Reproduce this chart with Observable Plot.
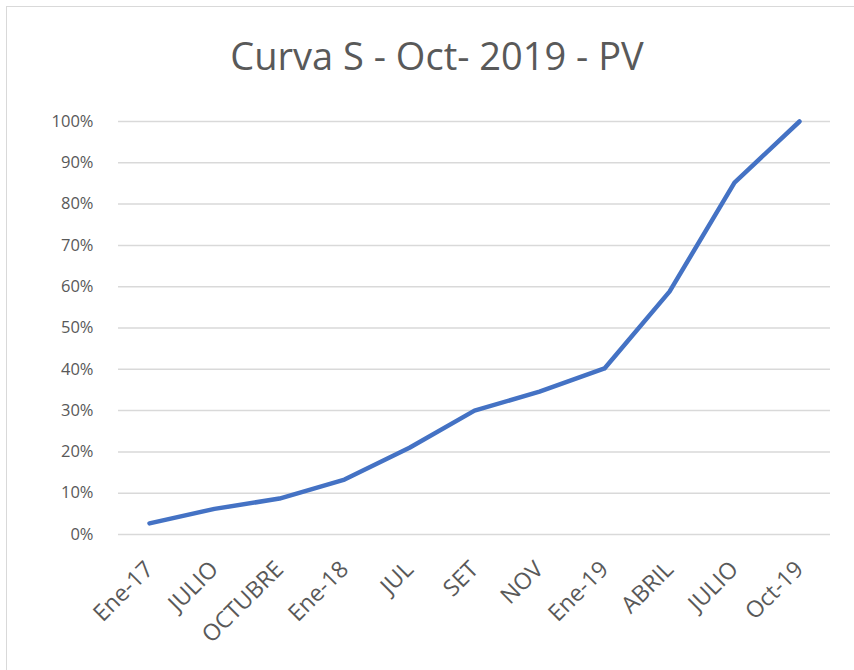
<!DOCTYPE html>
<html>
<head>
<meta charset="utf-8">
<script src="https://cdn.jsdelivr.net/npm/d3@7"></script>
<script src="https://cdn.jsdelivr.net/npm/@observablehq/plot@0.6"></script>
<style>
  html, body { margin: 0; padding: 0; background: #fff; }
  #wrap { position: relative; width: 854px; height: 670px; overflow: hidden; font-family: "Open Sans", sans-serif; }
  #frame { position: absolute; left: 6px; top: 6px; width: 860px; height: 680px; border: 1px solid #d9d9d9; box-sizing: border-box; }
  #title { position: absolute; top: 29px; left: 0; width: 874px; text-align: center; font-size: 38px; line-height: 52px; color: #595959; white-space: nowrap; }
  #plot { position: absolute; left: 0; top: 0; }
</style>
</head>
<body>
<div id="wrap">
  <div id="frame"></div>
  <div id="title">Curva S - Oct- 2019 - PV</div>
  <div id="plot"></div>
</div>
<script>
const categories = ["Ene-17", "JULIO", "OCTUBRE", "Ene-18", "JUL", "SET", "NOV", "Ene-19", "ABRIL", "JULIO", "Oct-19"];
const values = [0.027, 0.062, 0.087, 0.133, 0.21, 0.30, 0.346, 0.402, 0.588, 0.852, 1.0];
const yTicks = [0, 0.1, 0.2, 0.3, 0.4, 0.5, 0.6, 0.7, 0.8, 0.9, 1.0];

const data = categories.map((c, i) => ({i, label: c, value: values[i]}));

const chart = Plot.plot({
  width: 854,
  height: 670,
  marginLeft: 118,
  marginRight: 24,
  marginTop: 121,
  marginBottom: 136,
  style: {fontFamily: '"Open Sans", sans-serif', fontSize: "16px", color: "#595959", background: "transparent"},
  x: {type: "point", domain: categories.map((c, i) => i), padding: 0.47, label: null},
  y: {domain: [0, 1], label: null},
  marks: [
    Plot.ruleY(yTicks, {stroke: "#d9d9d9", strokeWidth: 1.5}),
    Plot.axisY({ticks: yTicks, tickFormat: d => Math.round(d * 100) + "%", tickSize: 0, tickPadding: 25, fontSize: 16.5, fill: "#595959"}),
    Plot.axisX({tickFormat: i => categories[i], tickRotate: -45, tickSize: 0, tickPadding: 31, fontSize: 23, fill: "#595959"}),
    Plot.line(data, {x: "i", y: "value", stroke: "#4472C4", strokeWidth: 4.5, strokeLinejoin: "round", strokeLinecap: "round"})
  ]
});
document.getElementById("plot").appendChild(chart);
</script>
</body>
</html>
